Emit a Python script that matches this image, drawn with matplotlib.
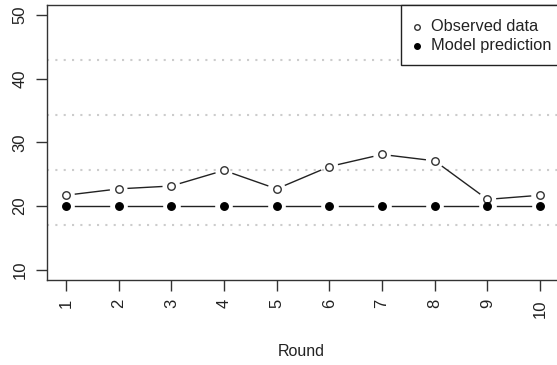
import matplotlib
matplotlib.use("Agg")
import matplotlib.pyplot as plt  # noqa: E402
import numpy as np  # noqa: E402
from matplotlib.patches import Rectangle  # noqa: E402

plt.rcParams["font.family"] = ["Liberation Sans", "DejaVu Sans"]

# 데이터
rounds = [1, 2, 3, 4, 5, 6, 7, 8, 9, 10]
observed = [21.7, 22.7, 23.15, 25.6, 22.7, 26.2, 28.1, 27.1, 21.05, 21.7]
predicted = [20, 20, 20, 20, 20, 20, 20, 20, 20, 20]
y_ticks = [10, 20, 30, 40, 50]
x_label = "Round"
legend_labels = ["Observed data", "Model prediction"]

W, H = 557, 365
ink = "#333333"

fig = plt.figure(figsize=(W / 100, H / 100), dpi=100)
# 플롯 영역 (오른쪽은 원본처럼 잘림)
ax = fig.add_axes([47 / W, (H - 280) / H, (559 - 47) / W, (280 - 4.7) / H])
ax.set_xlim(0.64, 10.36)
ax.set_ylim(8.4, 51.6)

# R grid(ny=5) 스타일 점선
for gy in np.linspace(8.4, 51.6, 6)[1:-1]:
    ax.axhline(gy, color="#cccccc", linestyle=(0, (1, 3)), linewidth=1.5, zorder=1)


def gapped_line(xs, ys, gap_px=9.5):
    """R type='b' 처럼 점 주변에 간격을 둔 선."""
    pts = ax.transData.transform(np.column_stack([xs, ys]))
    inv = ax.transData.inverted()
    for p0, p1 in zip(pts[:-1], pts[1:]):
        d = p1 - p0
        n = np.hypot(*d)
        if n <= 2 * gap_px:
            continue
        u = d / n
        a = inv.transform(p0 + u * gap_px)
        b = inv.transform(p1 - u * gap_px)
        ax.plot([a[0], b[0]], [a[1], b[1]], color="#222222", lw=1.0, zorder=2)


gapped_line(rounds, observed)
gapped_line(rounds, predicted)
ax.plot(rounds, observed, linestyle="none", marker="o", markersize=5.4,
        markerfacecolor="white", markeredgecolor=ink, markeredgewidth=1.0, zorder=3)
ax.plot(rounds, predicted, linestyle="none", marker="o", markersize=5.4,
        markerfacecolor="black", markeredgecolor="black", markeredgewidth=1.0, zorder=3)

for s in ax.spines.values():
    s.set_color(ink)
    s.set_linewidth(1.0)

ax.set_xticks(rounds)
ax.set_xticklabels([str(r) for r in rounds], rotation=90, va="top", ha="center")
ax.set_yticks(y_ticks)
ax.set_yticklabels([str(v) for v in y_ticks], rotation=90, va="center")
ax.tick_params(axis="both", length=7.7, width=1.0, color=ink, labelsize=12,
               labelcolor="#222222")
ax.tick_params(axis="x", pad=6)
ax.tick_params(axis="y", pad=6.5)

fig.text(301 / W, 1 - 351 / H, x_label, ha="center", va="center",
         fontsize=11.5, color="#222222")

# 범례 (R legend 스타일)
fig.patches.append(Rectangle((400.7 / W, 1 - 65 / H), 200 / W, (65 - 4.7) / H,
                             transform=fig.transFigure, facecolor="white",
                             edgecolor="#222222", linewidth=1.0, zorder=5))
fig.lines.append(plt.Line2D([416.7 / W], [1 - 26.7 / H], transform=fig.transFigure,
                            marker="o", markersize=4, markerfacecolor="white",
                            markeredgecolor=ink, linestyle="none", zorder=6))
fig.lines.append(plt.Line2D([416.7 / W], [1 - 45.7 / H], transform=fig.transFigure,
                            marker="o", markersize=4, markerfacecolor="black",
                            markeredgecolor="black", linestyle="none", zorder=6))
fig.text(430.7 / W, 1 - 26.7 / H, legend_labels[0], ha="left", va="center",
         fontsize=11.8, color="#222222", zorder=7)
fig.text(430.7 / W, 1 - 45.7 / H, legend_labels[1], ha="left", va="center",
         fontsize=11.8, color="#222222", zorder=7)

fig.savefig("out.png", dpi=100)
